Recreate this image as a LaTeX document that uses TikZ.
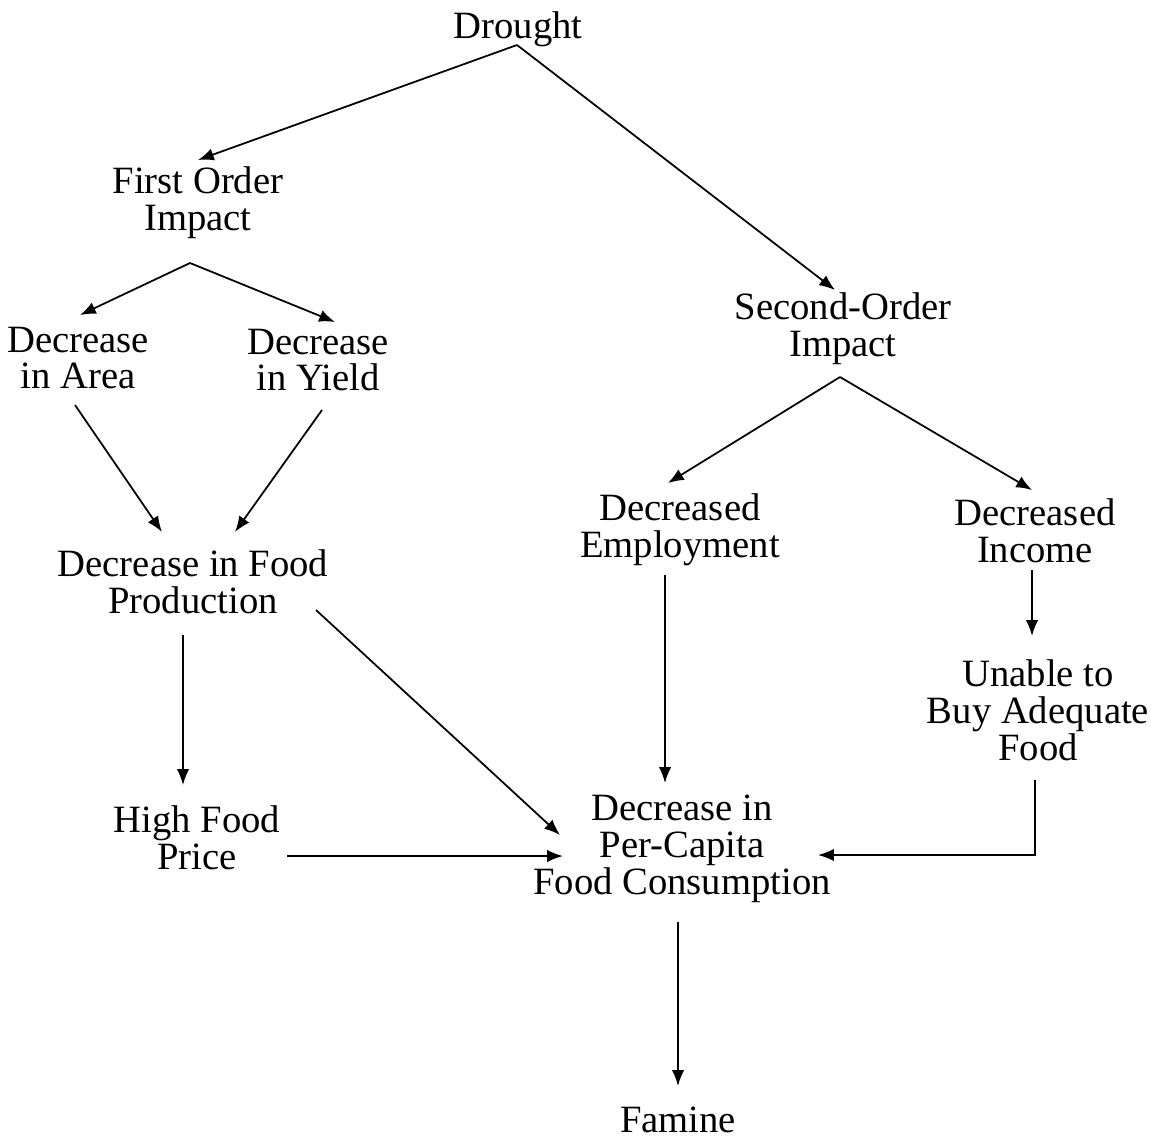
\documentclass[tikz,border=0pt]{standalone}
\usepackage{fontspec}
\setmainfont{Liberation Serif}
\usetikzlibrary{arrows.meta}
\begin{document}
\begin{tikzpicture}[x=0.02cm,y=-0.02cm,
  lbl/.style={align=center,inner sep=0pt,font=\fontsize{22}{21}\selectfont},
  arr/.style={draw,line width=1pt,-{Latex[length=9pt,width=7pt]}},
  ln/.style={draw,line width=1pt}]
\useasboundingbox[fill=white] (0,0) rectangle (1151,1140);
% nodes
\node[lbl] (drought) at (518,29) {Drought};
\node[lbl] (first) at (198,203) {First Order\\Impact};
\node[lbl] (area) at (78,358) {Decrease\\in Area};
\node[lbl] (yield) at (318,360) {Decrease\\in Yield};
\node[lbl] (second) at (843,329) {Second-Order\\Impact};
\node[lbl] (prod) at (193,582) {Decrease in Food\\Production};
\node[lbl] (employ) at (680,530) {Decreased\\Employment};
\node[lbl] (income) at (1035,531) {Decreased\\Income};
\node[lbl] (unable) at (1038,710) {Unable to\\Buy Adequate\\Food};
\node[lbl] (price) at (197,838) {High Food\\Price};
\node[lbl] (cons) at (682,849) {Decrease in\\Per-Capita\\Food Consumption};
\node[lbl] (famine) at (678,1120) {Famine};
% branch points
\coordinate (dapex) at (517,45);
\coordinate (fapex) at (190,263);
\coordinate (sapex) at (840,377);
\coordinate (corner) at (1035,855);
% connectors
\draw[arr] (dapex) -- (198,160) coordinate (firsttip);
\draw[arr] (dapex) -- (835,290) coordinate (secondtip);
\draw[arr] (fapex) -- (80,315) coordinate (areatip);
\draw[arr] (fapex) -- (335,322) coordinate (yieldtip);
\draw[arr] (sapex) -- (668,483) coordinate (employtip);
\draw[arr] (sapex) -- (1032,490) coordinate (incometip);
\draw[arr] (75,405) coordinate (areafoot) -- (162,532) coordinate (prodtipA);
\draw[arr] (322,410) coordinate (yieldfoot) -- (235,532) coordinate (prodtipB);
\draw[arr] (183,635) coordinate (prodfoot) -- (183,785) coordinate (pricetip);
\draw[arr] (316,610) coordinate (prodside) -- (560,835) coordinate (constipA);
\draw[arr] (287,856) coordinate (priceside) -- (563,856) coordinate (constipB);
\draw[arr] (665,575) coordinate (employfoot) -- (665,783) coordinate (constipC);
\draw[arr] (1032,570) coordinate (incomefoot) -- (1032,636) coordinate (unabletip);
\draw[arr] (1035,780) coordinate (unablefoot) -- (corner) -- (818,855) coordinate (constipD);
\draw[arr] (678,922) coordinate (consfoot) -- (678,1086) coordinate (faminetip);
\end{tikzpicture}
\end{document}
